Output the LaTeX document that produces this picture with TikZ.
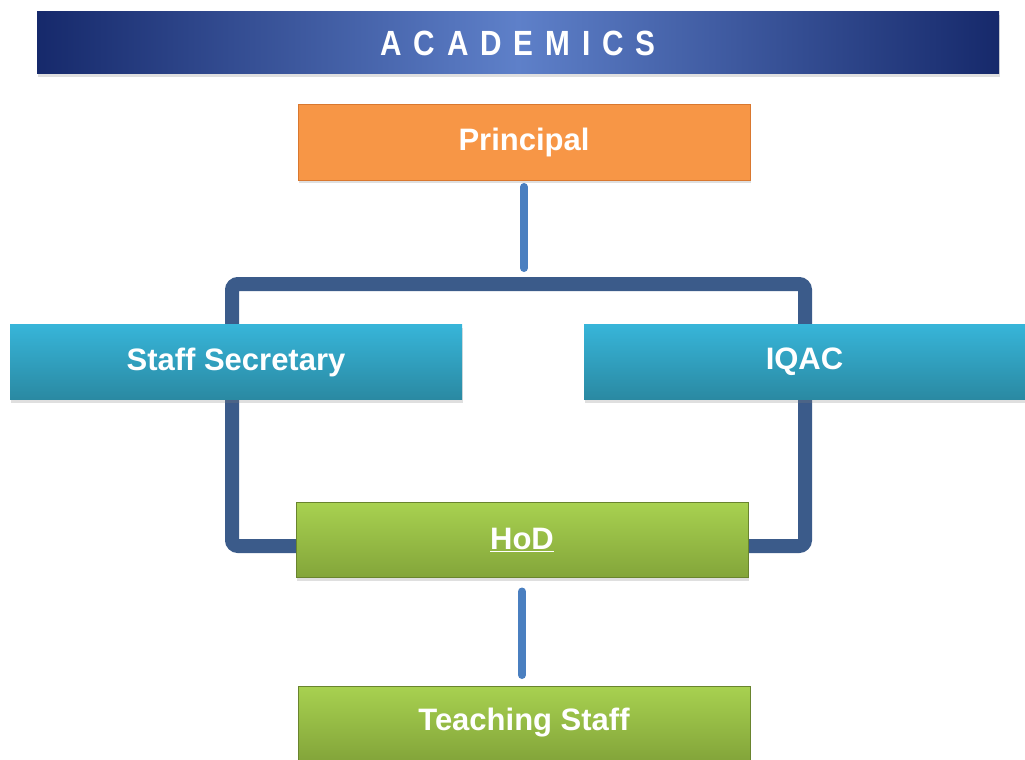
\documentclass[tikz,border=0pt]{standalone}
\usepackage{fontspec}
\setmainfont{Liberation Sans}
\usetikzlibrary{shadows,backgrounds}
\definecolor{navy}{HTML}{16296B}
\definecolor{skyband}{HTML}{5E80C9}
\definecolor{orangebox}{HTML}{F79646}
\definecolor{orangeline}{HTML}{D9782F}
\definecolor{tealtop}{HTML}{37B5D9}
\definecolor{tealbot}{HTML}{2A89A2}
\definecolor{greentop}{HTML}{A8D150}
\definecolor{greenbot}{HTML}{83A53A}
\definecolor{bracketblue}{HTML}{3B5B8A}
\definecolor{stemblue}{HTML}{4A7FC0}

\begin{document}
\begin{tikzpicture}[x=1pt,y=-1pt,
    box/.style={rectangle,inner sep=0pt,outer sep=0pt,minimum height=75pt,
        text=white,font={\fontsize{31}{36}\selectfont\bfseries},
        drop shadow={shadow xshift=1pt,shadow yshift=-3pt,opacity=0.25}},
    headbox/.style={box,fill=orangebox,draw=orangeline,line width=1pt},
    tealbox/.style={box,top color=tealtop,bottom color=tealbot},
    greenbox/.style={box,top color=greentop,bottom color=greenbot,draw=greenbot!80!black,line width=0.6pt},
    stem/.style={draw=stemblue,line width=8pt,line cap=round},
    bracket/.style={draw=bracketblue,line width=14pt,rounded corners=6pt}]
    \useasboundingbox (0,0) rectangle (1025,760);
    % title band
    \node[box,minimum width=962pt,minimum height=62pt,
        left color=navy,right color=navy,middle color=skyband] (banner) at (518,43)
        {\scalebox{0.85}[1]{\addfontfeature{LetterSpace=40}\fontsize{35}{40}\selectfont ACADEMICS}};
    % boxes
    \node[headbox,minimum width=452pt,minimum height=76pt] (principal) at (524,142) {Principal};
    \node[tealbox,minimum width=452pt] (secretary) at (236,362) {Staff Secretary};
    \node[tealbox,minimum width=441pt] (iqac) at (804.5,362) {IQAC};
    \node[greenbox,minimum width=452pt] (hod) at (522,540) {\underline{HoD}};
    \node[greenbox,minimum width=452pt,minimum height=74pt] (teach) at (524,723) {Teaching Staff};
    % connectors
    \coordinate (brtl) at (232,284);
    \coordinate (brtr) at (805,284);
    \begin{scope}[on background layer]
    \draw[bracket] ([yshift=-6pt]hod.west) -| (brtl) -- (brtr) |- ([yshift=-6pt]hod.east);
    \draw[stem,shorten <=7pt,shorten >=16pt] (principal.south) -- (principal.south |- brtl);
    \draw[stem,shorten <=14pt,shorten >=11pt] (hod.south) -- (hod.south |- teach.north);
    \end{scope}
\end{tikzpicture}
\end{document}
